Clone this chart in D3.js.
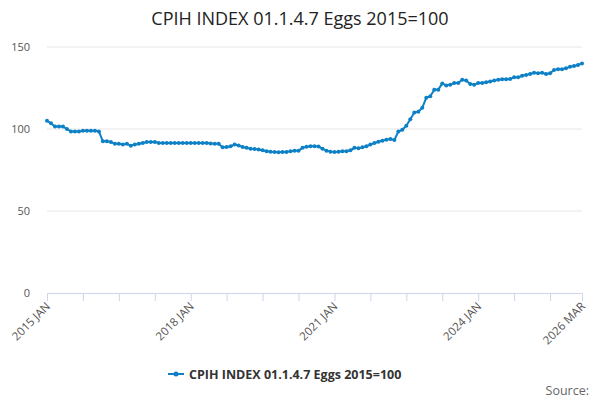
<!DOCTYPE html>
<html><head>
<script src="https://cdnjs.cloudflare.com/ajax/libs/d3/7.8.0/d3.min.js"></script>
<style>
  body { margin: 0; background: #fff; font-family: "Open Sans", sans-serif; }
</style>
</head><body>
<svg id="chart" width="600" height="400"></svg>
<script>
    var title = "CPIH INDEX 01.1.4.7 Eggs 2015=100";
    var startYear = 2015;
    var values = [
        105,103.5,101.5,101.5,101.5,100,98.5,98.5,98.5,99,99,99,
        99,98.5,92.5,92.5,92,91,91,90.5,91,89.8,90.5,91,
        91.5,92,92,92,91.5,91.5,91.5,91.5,91.5,91.5,91.5,91.5,
        91.5,91.5,91.5,91.5,91.5,91.2,91,91,88.8,89,89.5,90.5,
        90,89,88.5,88,87.8,87.5,87,86.5,86.2,86,85.8,86,
        86,86.5,86.8,86.8,88.5,89.2,89.5,89.5,89.3,88,86.8,86.2,
        86,86.2,86.5,86.5,87,88.5,88.2,88.8,89.5,90.5,91.4,92.2,
        92.8,93.5,93.9,93.3,98.5,99.5,102,106,110,110.5,113,119,
        120,124,124,127.8,126.5,127,128,128,130,129.5,127.5,127,
        128,128,128.5,129,129.5,130,130.3,130.3,130.5,131.5,131.5,132.5,
        133,133.5,134.3,134,134.3,133.5,134,136,136.5,136.5,137,138,
        138.4,139,140
    ];
    var months = ["JAN","FEB","MAR","APR","MAY","JUN","JUL","AUG","SEP","OCT","NOV","DEC"];
    var labelIdx = [0, 36, 72, 108, 134];
    var yTicks = [0, 50, 100, 150];

    var svg = d3.select("#chart");
    var m = {left: 47, right: 18, top: 47, bottom: 107};
    var w = 600 - m.left - m.right, h = 400 - m.top - m.bottom;

    var x = d3.scaleLinear().domain([0, values.length - 1]).range([m.left, m.left + w]);
    var y = d3.scaleLinear().domain([0, 150]).range([m.top + h, m.top]);
    var lab = i => (startYear + Math.floor(i / 12)) + " " + months[i % 12];

    svg.append("text").attr("x", 300).attr("y", 25).attr("text-anchor", "middle")
        .attr("font-size", 18).attr("fill", "#222").text(title);

    // grid
    svg.append("g").selectAll("line").data(yTicks.slice(1)).join("line")
        .attr("x1", m.left).attr("x2", m.left + w)
        .attr("y1", d => y(d)).attr("y2", d => y(d))
        .attr("stroke", "#e6e6e6");
    svg.append("g").selectAll("text").data(yTicks).join("text")
        .attr("x", m.left - 17).attr("y", d => y(d) + 4).attr("text-anchor", "end")
        .attr("font-size", 11).attr("fill", "#555").text(d => d);

    // x axis
    var xa = svg.append("g").attr("transform", `translate(0,${m.top + h})`)
        .call(d3.axisBottom(x).tickValues(d3.range(0, values.length, 9)).tickSize(8).tickFormat(""));
    xa.select(".domain").attr("stroke", "#ccd6eb");
    xa.selectAll(".tick line").attr("stroke", "#ccd6eb");
    svg.append("g").selectAll("text").data(labelIdx).join("text")
        .attr("transform", d => `translate(${x(d) + 4},${m.top + h + 14}) rotate(-45)`)
        .attr("text-anchor", "end").attr("font-size", 11.5).attr("fill", "#555")
        .text(d => lab(d));

    var color = "#0e80c6";
    svg.append("path").datum(values)
        .attr("fill", "none").attr("stroke", color).attr("stroke-width", 2)
        .attr("d", d3.line().x((d, i) => x(i)).y(d => y(d)));
    svg.append("g").selectAll("circle").data(values).join("circle")
        .attr("cx", (d, i) => x(i)).attr("cy", d => y(d)).attr("r", 2).attr("fill", color);

    // legend
    var lg = svg.append("g").attr("transform", "translate(168,374)");
    lg.append("line").attr("x1", 0).attr("x2", 16).attr("stroke", color).attr("stroke-width", 2);
    lg.append("circle").attr("cx", 8).attr("r", 2.5).attr("fill", color);
    lg.append("text").attr("x", 21).attr("y", 4.5).attr("font-size", 12.5).attr("font-weight", "bold")
        .attr("fill", "#333").text(title);

    svg.append("text").attr("x", 589).attr("y", 395).attr("text-anchor", "end")
        .attr("font-size", 12.5).attr("fill", "#666").text("Source:");
</script>
</body></html>
